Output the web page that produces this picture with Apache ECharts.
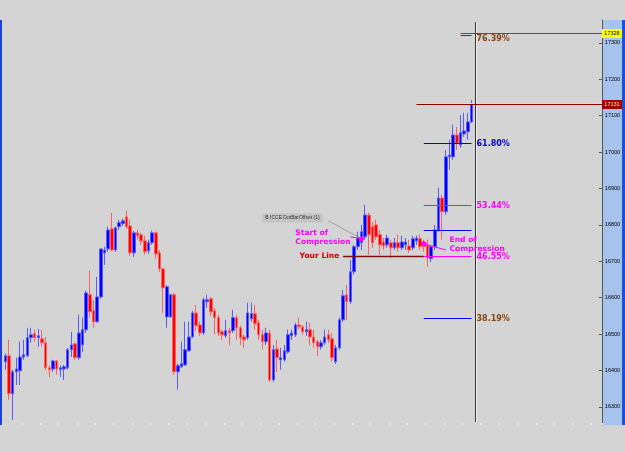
<!DOCTYPE html>
<html><head><meta charset="utf-8">
<script src="https://cdn.jsdelivr.net/npm/echarts@6/dist/echarts.min.js"></script>
<style>html,body{margin:0;padding:0;background:#d4d4d4;}#c{width:625px;height:452px;}</style>
</head><body><div id="c"></div>
<script>
// ---- DATA ----
const opens = [16424,16440,16336,16396,16399,16437,16440,16490,16501,16490,16487,16476,16407,16404,16426,16402,16404,16407,16457,16473,16435,16470,16512,16608,16564,16534,16602,16723,16734,16789,16731,16795,16803,16822,16797,16723,16778,16773,16756,16729,16751,16778,16723,16679,16547,16547,16608,16396,16410,16415,16454,16492,16558,16525,16503,16589,16597,16564,16545,16506,16495,16509,16509,16545,16517,16492,16490,16542,16556,16531,16498,16479,16503,16374,16459,16429,16429,16451,16495,16498,16525,16520,16506,16512,16492,16479,16465,16476,16498,16487,16424,16462,16539,16608,16589,16671,16740,16751,16767,16827,16795,16800,16773,16753,16745,16751,16737,16751,16737,16745,16742,16737,16756,16762,16751,16745,16707,16740,16786,16874,16836,16987,16987,17047,17020,17050,17056,17083];
const closes = [16440,16336,16396,16404,16437,16443,16490,16498,16490,16495,16476,16407,16402,16426,16404,16407,16410,16457,16470,16435,16503,16512,16613,16561,16534,16602,16734,16731,16786,16731,16792,16806,16811,16795,16723,16778,16770,16756,16726,16751,16778,16720,16679,16627,16630,16608,16396,16413,16418,16457,16492,16558,16523,16503,16594,16594,16561,16545,16503,16498,16509,16503,16545,16517,16490,16484,16558,16556,16528,16498,16479,16503,16374,16457,16435,16435,16454,16498,16503,16525,16520,16506,16512,16492,16476,16465,16476,16492,16484,16435,16462,16539,16605,16589,16671,16740,16764,16781,16827,16773,16751,16767,16745,16742,16764,16737,16751,16737,16753,16753,16731,16762,16764,16740,16740,16709,16740,16786,16874,16836,16987,16992,17047,17025,17053,17058,17083,17131];
const lows = [16402,16319,16264,16360,16360,16429,16437,16476,16479,16465,16465,16402,16382,16396,16388,16382,16374,16402,16437,16429,16429,16451,16503,16545,16517,16531,16597,16690,16726,16728,16726,16786,16797,16789,16715,16712,16759,16745,16718,16720,16745,16707,16671,16558,16517,16545,16388,16347,16407,16413,16451,16490,16509,16495,16498,16572,16550,16498,16495,16484,16490,16470,16503,16484,16470,16462,16484,16534,16512,16484,16457,16470,16369,16369,16396,16402,16424,16446,16484,16492,16512,16498,16495,16470,16462,16440,16457,16470,16476,16424,16418,16457,16534,16539,16583,16663,16731,16731,16759,16718,16737,16759,16718,16731,16737,16709,16731,16726,16731,16731,16723,16731,16745,16731,16726,16685,16698,16731,16781,16759,16827,16951,16979,17006,17012,17042,17034,17080];
const highs = [16446,16484,16402,16435,16479,16484,16517,16517,16512,16514,16512,16492,16413,16429,16429,16413,16415,16462,16506,16476,16553,16545,16619,16674,16594,16657,16734,16740,16795,16833,16795,16814,16817,16839,16814,16784,16786,16778,16770,16759,16784,16782,16731,16682,16634,16610,16613,16418,16479,16534,16534,16564,16580,16534,16600,16608,16602,16572,16553,16512,16539,16517,16567,16553,16523,16498,16586,16586,16580,16539,16512,16517,16512,16470,16484,16462,16470,16512,16512,16531,16545,16525,16534,16531,16512,16484,16484,16512,16512,16503,16470,16545,16621,16635,16704,16745,16781,16800,16855,16833,16808,16814,16786,16764,16773,16759,16764,16773,16770,16764,16759,16770,16770,16773,16759,16759,16745,16800,16902,16883,17006,17034,17075,17069,17102,17108,17108,17143];
const categories = opens.map((_, i) => String(i + 1));
const yTicks = [16300,16400,16500,16600,16700,16800,16900,17000,17100,17200,17300];
const fibNames  = ['76.39%','61.80%','53.44%','','46.55%','38.19%'];
const fibValues = [17322,17025,16855,16786,16715,16545];
const lastPrice = 17131;
const topLevel = 17327;
const topLevelText = '17328';
const yourLineValue = 16715;
const indicatorName = 'B ICCE DotBarOffset (1)';

// ---- STYLE / LAYOUT ----
const fibStyle = [
  {from:123.8, line:'#7a2e10', text:'#8b4513'},
  {from:113.8, line:'#0000ff', text:'#0000cd'},
  {from:113.8, line:'#ff00ff', text:'#ff00ff'},
  {from:113.8, line:'#0000ff', text:'#0000cd'},
  {from:113.8, line:'#ff00ff', text:'#ff00ff'},
  {from:113.8, line:'#0000ff', text:'#8b4513'}
];
const fibTo = 126.9;
const slots = 163;
const sepIndex = 128.08;

const candles = opens.map((o, i) => [o, closes[i], lows[i], highs[i]]);

const chart = echarts.init(document.getElementById('c'), null, {renderer:'canvas'});
chart.setOption({
  animation:false,
  backgroundColor:'#d4d4d4',
  grid:{left:3.5, top:20, width:slots*3.671, height:405, containLabel:false},
  xAxis:{type:'category', data:categories, max:slots-1, boundaryGap:true,
    axisLine:{show:false}, axisLabel:{show:false}, splitLine:{show:false},
    axisTick:{show:true, interval:4, inside:true, length:2, lineStyle:{color:'#eeeeee'}}},
  yAxis:{type:'value', position:'right', min:16250, max:17363, scale:true,
    axisLine:{show:true, lineStyle:{color:'#555'}},
    axisTick:{show:true, inside:true, length:3, customValues:yTicks, lineStyle:{color:'#555'}},
    axisLabel:{customValues:yTicks, fontSize:5.5, color:'#000', margin:3, fontFamily:'Liberation Sans', formatter:v => String(v)},
    splitLine:{show:false}},
  series:[{
    type:'candlestick', data:candles, barWidth:3,
    itemStyle:{color:'#0000ff', color0:'#ff0000', borderColor:'#5a5aff', borderColor0:'#ff6060', borderWidth:1}
  }]
});

function P(i, v){ return chart.convertToPixel({xAxisIndex:0, yAxisIndex:0}, [i, v]); }
const rightX = P(slots - 0.5, lastPrice)[0];
const g = [];
function hline(i1, i2, v, color, w){
  const a = P(i1, v), b = P(i2, v);
  g.push({type:'line', z:50, shape:{x1:a[0], y1:Math.round(a[1])+0.5, x2:b[0], y2:Math.round(a[1])+0.5}, style:{stroke:color, lineWidth:w}});
  return [b[0], Math.round(a[1])+0.5];
}
function seg(i1, v1, i2, v2, color, w){
  const a = P(i1, v1), b = P(i2, v2);
  g.push({type:'line', z:50, shape:{x1:a[0], y1:a[1], x2:b[0], y2:b[1]}, style:{stroke:color, lineWidth:w}});
}
// panels
g.push({type:'rect', z:-1, shape:{x:602, y:20, width:20, height:405}, style:{fill:'#a6c3ee'}});
g.push({type:'rect', z:60, shape:{x:622, y:20, width:3, height:405}, style:{fill:'#1e4fd8'}});
g.push({type:'rect', z:60, shape:{x:0, y:20, width:2, height:405}, style:{fill:'#1e3fd8'}});
// fib levels
fibValues.forEach((v, k) => {
  const end = hline(fibStyle[k].from, fibTo, v, fibStyle[k].line, 1);
  if (fibNames[k]) g.push({type:'text', z:55, x:end[0] + 5, y:end[1] + (k === 0 ? 3 : 0),
    style:{text:fibNames[k], fill:fibStyle[k].text, font:'bold 8px "DejaVu Sans"', align:'left', verticalAlign:'middle'}});
});
// separator
const sx = Math.round(P(sepIndex, lastPrice)[0]) + 0.5;
g.push({type:'line', z:50, shape:{x1:sx, y1:22, x2:sx, y2:422}, style:{stroke:'#333', lineWidth:1}});
g.push({type:'line', z:49, shape:{x1:sx+1, y1:22, x2:sx+1, y2:422}, style:{stroke:'#f0f0f0', lineWidth:1}});
// top level & last price lines with axis boxes
const tl = hline(123.5, slots - 0.5, topLevel, '#555555', 1);
const lp = P(111.6, lastPrice);
g.push({type:'line', z:49, shape:{x1:lp[0], y1:Math.round(lp[1])-0.5, x2:rightX, y2:Math.round(lp[1])-0.5}, style:{stroke:'#e6dcc0', lineWidth:1}});
const lpe = hline(111.6, slots - 0.5, lastPrice, '#8a0000', 1);
g.push({type:'rect', z:61, shape:{x:602, y:tl[1]-4.5, width:20, height:9}, style:{fill:'#ffff00'}});
g.push({type:'text', z:62, x:612, y:tl[1], style:{text:topLevelText, fill:'#000', font:'5.5px "Liberation Sans"', align:'center', verticalAlign:'middle'}});
g.push({type:'rect', z:61, shape:{x:602, y:lpe[1]-4.5, width:20, height:9}, style:{fill:'#a00000'}});
g.push({type:'text', z:62, x:612, y:lpe[1], style:{text:String(lastPrice), fill:'#ffe8a0', font:'5.5px "Liberation Sans"', align:'center', verticalAlign:'middle'}});
// your line
hline(91.8, 113.8, yourLineValue, '#7a1010', 1.5);
const ty = P(91.2, yourLineValue);
g.push({type:'text', z:55, x:ty[0], y:ty[1], style:{text:'Your Line', fill:'#d00000', font:'bold 7.6px "DejaVu Sans"', align:'right', verticalAlign:'middle'}});
// compression annotations
const mag = '#ff00ff';
const dotStart = P(96.6, 16762), dotEnd = P(113.8, 16748);
seg(87.9, 16811, 96.6, 16762, '#8a8a8a', 0.7);
seg(94.2, 16767, 96.6, 16762, mag, 1);
seg(120.0, 16731, 113.8, 16748, mag, 1);
g.push({type:'circle', z:56, shape:{cx:dotStart[0], cy:dotStart[1], r:2.5}, style:{fill:mag}});
g.push({type:'circle', z:56, shape:{cx:dotEnd[0], cy:dotEnd[1], r:2.5}, style:{fill:mag}});
const ts = P(79.2, 16764), te = P(120.6, 16745), ti = P(70.2, 16819);
g.push({type:'text', z:55, x:ts[0], y:ts[1], style:{text:'Start of\nCompression', fill:mag, font:'bold 7.6px "DejaVu Sans"', lineHeight:9, align:'left', verticalAlign:'middle'}});
g.push({type:'text', z:55, x:te[0], y:te[1], style:{text:'End of\nCompression', fill:mag, font:'bold 7.6px "DejaVu Sans"', lineHeight:9, align:'left', verticalAlign:'middle'}});
g.push({type:'text', z:55, x:ti[0], y:ti[1], style:{text:indicatorName, fill:'#333', font:'5px "Liberation Sans"', align:'left', verticalAlign:'middle', backgroundColor:'#c4c4c4', padding:[2,3,2,3]}});

chart.setOption({graphic: g.map(e => Object.assign({silent:true}, e))});
</script>
</body></html>
